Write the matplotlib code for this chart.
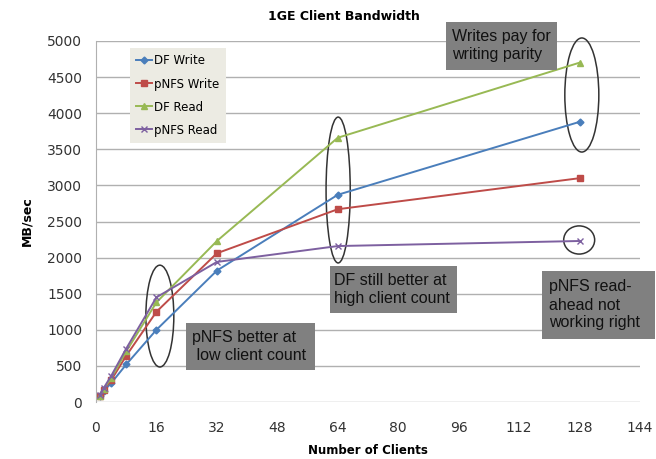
import matplotlib.pyplot as plt
from matplotlib.patches import Ellipse, Rectangle

clients = [1, 2, 4, 8, 16, 32, 64, 128]
df_write = [80, 150, 260, 520, 1000, 1820, 2870, 3880]
pnfs_write = [90, 170, 300, 640, 1250, 2060, 2670, 3100]
df_read = [90, 180, 330, 700, 1380, 2230, 3660, 4700]
pnfs_read = [100, 190, 360, 740, 1450, 1940, 2160, 2230]

series = [
    ("DF Write", df_write, "#4A7EBB", "D", 3.5),
    ("pNFS Write", pnfs_write, "#BE4B48", "s", 5),
    ("DF Read", df_read, "#98B954", "^", 5),
    ("pNFS Read", pnfs_read, "#7D60A0", "x", 5),
]

W, H = 656, 459
fig = plt.figure(figsize=(W / 100, H / 100), dpi=100)
ax = fig.add_axes([96 / W, 1 - 402 / H, 544 / W, 361 / H])

for name, vals, color, marker, ms in series:
    ax.plot(clients, vals, color=color, marker=marker, markersize=ms,
            linewidth=1.4, label=name)

ax.set_xlim(0, 144)
ax.set_ylim(0, 5000)
ax.set_xticks(range(0, 145, 16))
ax.set_yticks(range(0, 5001, 500))
ax.yaxis.grid(True, color="#b0b0b0", linewidth=1)
ax.set_axisbelow(True)
for side in ["top", "right", "bottom"]:
    ax.spines[side].set_visible(False)
ax.spines["left"].set_color("#b0b0b0")
ax.tick_params(axis="y", length=0, labelsize=10, labelcolor="#333333", pad=10)
ax.tick_params(axis="x", length=0, labelsize=10, labelcolor="#333333", pad=14)

fig.text(344 / W, 1 - 16 / H, "1GE Client Bandwidth", fontsize=9,
         fontweight="bold", ha="center", va="center")
fig.text(368 / W, 1 - 450 / H, "Number of Clients", fontsize=8.5,
         fontweight="bold", ha="center", va="center")
ax.set_ylabel("MB/sec", fontsize=9, fontweight="bold", labelpad=10)

leg = ax.legend(loc="upper left", bbox_to_anchor=(34 / 544, 354 / 361),
                borderaxespad=0, fontsize=8.5, frameon=True, fancybox=False,
                handlelength=1.3, handletextpad=0.2, labelspacing=0.85,
                borderpad=0.55)
leg.get_frame().set_facecolor("#ecebe3")
leg.get_frame().set_edgecolor("none")
leg.get_frame().set_alpha(1)

# call-out ellipses around groups of points
for cx, cy, w, h in [(16.9, 1190, 7.4, 1410), (64.1, 2936, 6.4, 2020),
                     (128.6, 4252, 9.0, 1580), (127.9, 2244, 8.2, 390)]:
    ax.add_patch(Ellipse((cx, cy), w, h, fill=False, edgecolor="#333333",
                         linewidth=1.1, clip_on=False))

# grey note boxes: (left, top, right, bottom) in pixels, text left edge
notes = [
    ((446, 22, 557, 70), 452, "Writes pay for\nwriting parity"),
    ((186, 323, 315, 370), 192, "pNFS better at\n low client count"),
    ((330, 266, 457, 313), 334, "DF still better at\nhigh client count"),
    ((542, 271, 655, 339), 549, "pNFS read-\nahead not\nworking right"),
]
for (l, t, r, b), tx, s in notes:
    fig.patches.append(Rectangle((l / W, 1 - b / H), (r - l) / W, (b - t) / H,
                                 transform=fig.transFigure, facecolor="#808080",
                                 edgecolor="none", zorder=5))
    fig.text(tx / W, 1 - (t + b) / 2 / H, s, fontsize=11.5,
             family="Liberation Sans", color="#111111", ha="left",
             va="center", linespacing=1.25, zorder=6)

fig.savefig("out.png", dpi=100)
